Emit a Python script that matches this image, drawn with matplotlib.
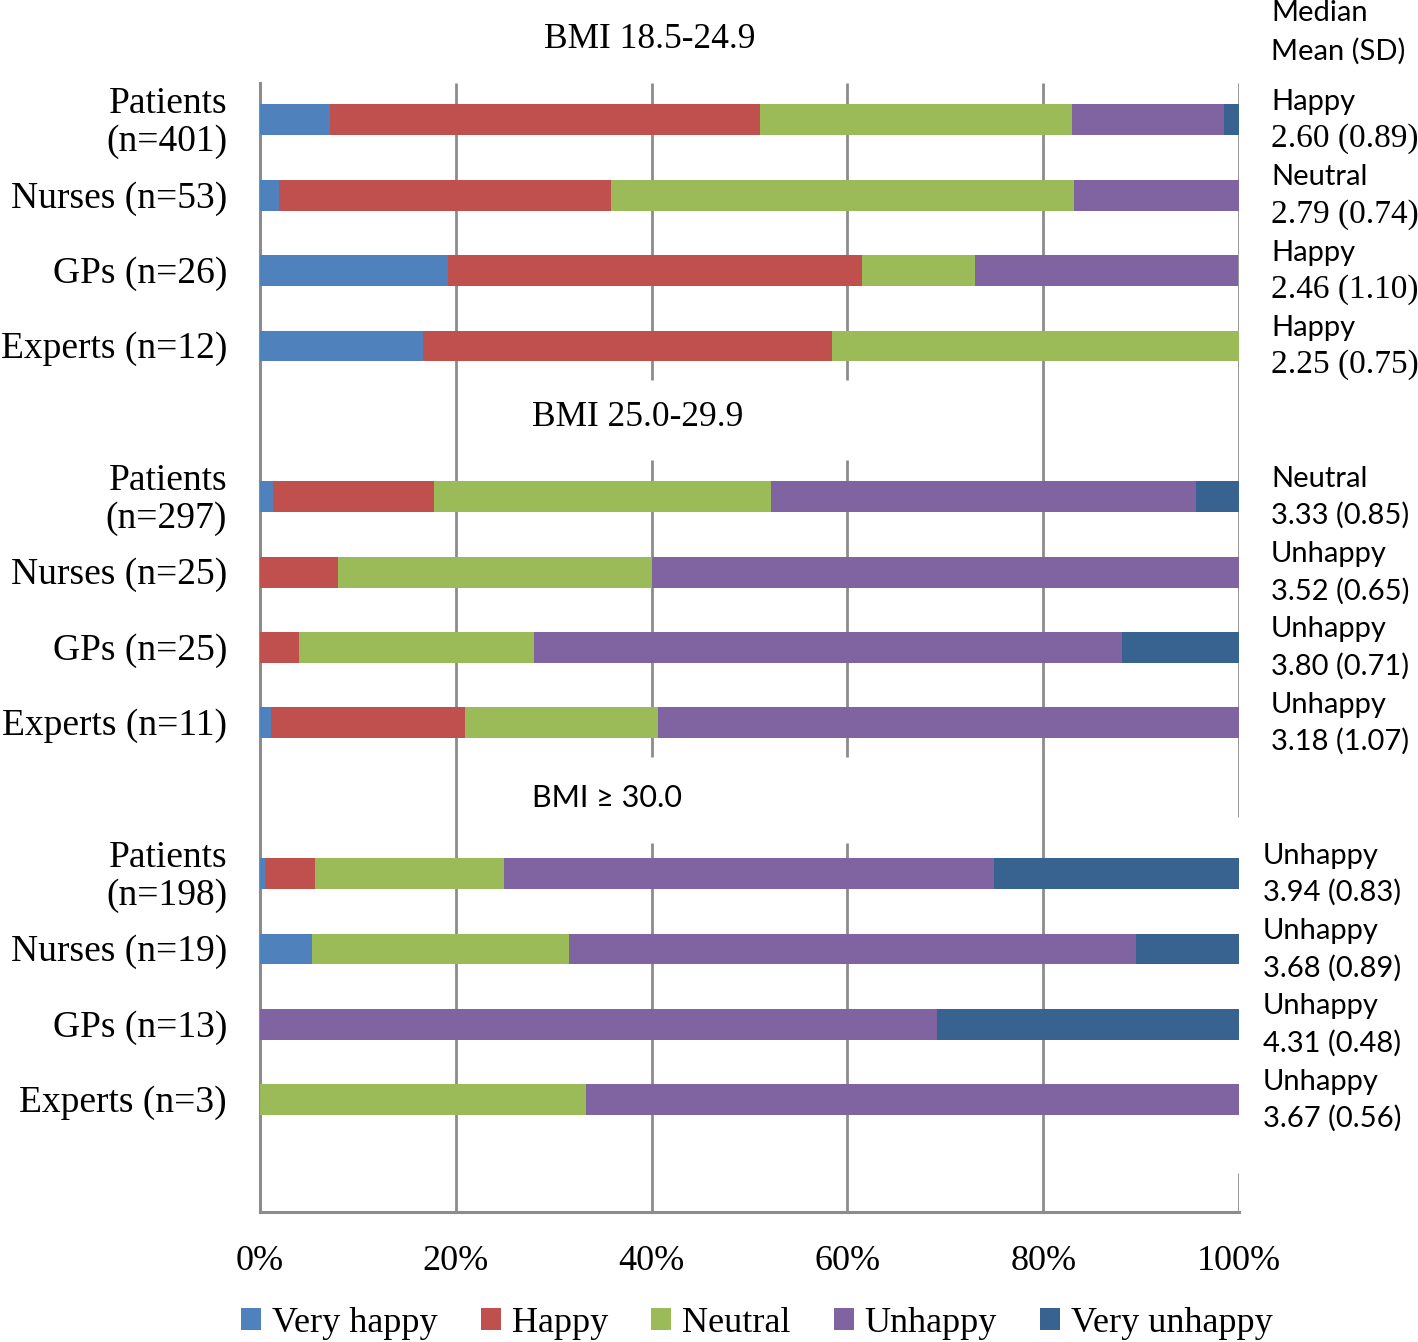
import numpy as np
import matplotlib
matplotlib.use("Agg")
import matplotlib.pyplot as plt
import matplotlib.transforms as mtransforms
from matplotlib.patches import Patch

# groups, top to bottom
groups = ["Patients\n(n=401)", "Nurses (n=53)", "GPs (n=26)", "Experts (n=12)",
          "Patients\n(n=297)", "Nurses (n=25)", "GPs (n=25)", "Experts (n=11)",
          "Patients\n(n=198)", "Nurses (n=19)", "GPs (n=13)", "Experts (n=3)"]
panel_titles = ["BMI 18.5-24.9", "BMI 25.0-29.9", "BMI \u2265 30.0"]

# percentages per answer
very_happy = [7.2, 1.9, 19.2, 16.7, 1.3, 0, 0, 1.1, 0.5, 5.3, 0, 0]
happy = [43.9, 34.0, 42.3, 41.7, 16.5, 8.0, 4.0, 19.8, 5.1, 0, 0, 0]
neutral = [31.8, 47.2, 11.5, 41.7, 34.4, 32.0, 24.0, 19.8, 19.3, 26.3, 0, 33.3]
unhappy = [15.6, 17.0, 26.9, 0, 43.4, 60.0, 60.0, 59.3, 50.1, 57.9, 69.2, 66.7]
very_unhappy = [1.5, 0, 0, 0, 4.4, 0, 12.0, 0, 25.0, 10.5, 30.8, 0]

medians = ["Happy", "Neutral", "Happy", "Happy",
           "Neutral", "Unhappy", "Unhappy", "Unhappy",
           "Unhappy", "Unhappy", "Unhappy", "Unhappy"]
mean_sd = ["2.60 (0.89)", "2.79 (0.74)", "2.46 (1.10)", "2.25 (0.75)",
           "3.33 (0.85)", "3.52 (0.65)", "3.80 (0.71)", "3.18 (1.07)",
           "3.94 (0.83)", "3.68 (0.89)", "4.31 (0.48)", "3.67 (0.56)"]

series_names = ["Very happy", "Happy", "Neutral", "Unhappy", "Very unhappy"]
colours = ["#4f81bd", "#c0504d", "#9bbb59", "#8064a2", "#386391"]

serif = "Liberation Serif"
sans = "Lato"

W, H = 1418, 1342
fig = plt.figure(figsize=(W / 100, H / 100), dpi=100)
ax = fig.add_axes([260 / W, 1 - 1212 / H, (1239 - 260) / W, (1212 - 83) / H])

rows = np.array([0, 1, 2, 3, 5, 6, 7, 8, 10, 11, 12, 13])
left = np.zeros(len(rows))
for vals, col in zip([very_happy, happy, neutral, unhappy, very_unhappy], colours):
    vals = np.array(vals)
    ax.barh(rows, vals, left=left, height=0.41, color=col, edgecolor="none", zorder=3)
    left += vals

ax.set_xlim(0, 100)
ax.set_ylim(14.49, -0.49)

# gridlines with the gaps where the panel titles sit
gc = "#8c8c8c"
lw = 2.0
ax.vlines(20, -0.49, 14.49, color=gc, lw=lw, zorder=1)
ax.vlines(80, -0.49, 14.49, color=gc, lw=lw, zorder=1)
for xg in (40, 60):
    ax.vlines(xg, -0.49, 3.45, color=gc, lw=lw, zorder=1)
    ax.vlines(xg, 4.51, 8.45, color=gc, lw=lw, zorder=1)
    ax.vlines(xg, 9.6, 14.49, color=gc, lw=lw, zorder=1)
ax.vlines(100, -0.49, 9.25, color=gc, lw=lw, zorder=1)
ax.vlines(100, 13.97, 14.49, color=gc, lw=lw, zorder=1)

for s in ["top", "right"]:
    ax.spines[s].set_visible(False)
for s in ["left", "bottom"]:
    ax.spines[s].set_color(gc)
    ax.spines[s].set_linewidth(2.2)

ax.set_xticks([0, 20, 40, 60, 80, 100])
ax.set_xticklabels(["0%", "20%", "40%", "60%", "80%", "100%"], fontfamily=serif, fontsize=26)
ax.tick_params(axis="x", length=0, pad=24)
ax.set_yticks([])

# group labels on the left
ylab = mtransforms.blended_transform_factory(ax.transAxes, ax.transData)
for r, g in zip(rows, groups):
    ax.text(-33 / 979, r + 0.04, g, transform=ylab, ha="right", va="center",
            fontfamily=serif, fontsize=27, linespacing=1.15)

# median and mean (SD) on the right
for i, (r, med, ms) in enumerate(zip(rows, medians, mean_sd)):
    xr = (1271 - 260) / 979 if i < 8 else (1263 - 260) / 979
    num_font = serif if i < 4 else sans
    num_size = 24 if i < 4 else 21
    ax.text(xr, r - 0.24, med, transform=ylab, ha="left", va="center",
            fontfamily=sans, fontsize=21)
    ax.text(xr, r + 0.25, ms, transform=ylab, ha="left", va="center",
            fontfamily=num_font, fontsize=num_size)

fig.text(1271 / W, 1 - 13 / H, "Median", fontfamily=sans, fontsize=21, ha="left", va="center")
fig.text(1271 / W, 1 - 51 / H, "Mean (SD)", fontfamily=sans, fontsize=21, ha="left", va="center")

# panel titles
fig.text(650 / W, 1 - 40 / H, panel_titles[0], fontfamily=serif, fontsize=25.5, ha="center", va="center")
fig.text(638 / W, 1 - 417 / H, panel_titles[1], fontfamily=serif, fontsize=25.5, ha="center", va="center")
fig.text(607 / W, 1 - 798 / H, panel_titles[2], fontfamily=sans, fontsize=22, ha="center", va="center")

handles = [Patch(facecolor=c, edgecolor="none") for c in colours]
fig.legend(handles, series_names, loc="center", bbox_to_anchor=(757 / W, 1 - 1323 / H),
           ncol=5, frameon=False, prop={"family": serif, "size": 26},
           handlelength=0.55, handleheight=0.55, handletextpad=0.3, columnspacing=1.2)

fig.savefig("out.png", dpi=100, facecolor="white")
